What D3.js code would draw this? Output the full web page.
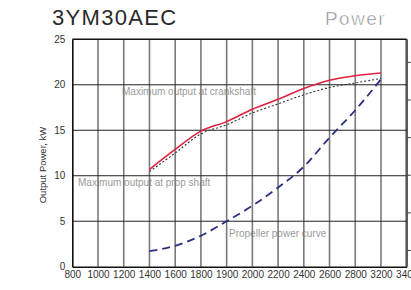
<!DOCTYPE html>
<html>
<head>
<meta charset="utf-8">
<script src="https://cdn.jsdelivr.net/npm/d3@7"></script>
<style>
  body { margin: 0; background: #fff; }
  svg { display: block; font-family: "Liberation Sans", Arial, sans-serif; }
</style>
</head>
<body>
<div id="chart"></div>
<script>
// rpm categories on x axis (equal spacing, as in the sheet)
var rpmLabels = ["800", "1000", "1200", "1400", "1600", "1800", "1900", "2000", "2200", "2400", "2600", "2800", "3200", "3400"]
var curveRpm = ["1400", "1600", "1800", "1900", "2000", "2200", "2400", "2600", "2800", "3200"]
var crankshaft = [10.7, 12.9, 14.9, 15.95, 17.3, 18.4, 19.6, 20.5, 21.0, 21.3]
var propShaft = [10.45, 12.5, 14.6, 15.6, 16.9, 17.9, 18.9, 19.7, 20.2, 20.7]
var propeller = [1.7, 2.3, 3.4, 5.0, 6.7, 8.7, 11.0, 14.2, 17.2, 20.6]
var yTicks = [0, 5, 10, 15, 20, 25]
var rightTicks = [10, 20, 30, 40, 50, 60]

var width = 411, height = 290
var margin = {top: 39.3, right: 4.3, bottom: 23.3, left: 72.3}

var svg = d3.select("#chart")
  .append("svg")
  .attr("width", width)
  .attr("height", height)

// titles
svg.append("text")
  .attr("x", 52).attr("y", 25)
  .style("font-size", "22px")
  .style("letter-spacing", "1.3px")
  .attr("fill", "#2a2a2a")
  .text("3YM30AEC")
svg.append("text")
  .attr("x", 325).attr("y", 25)
  .style("font-size", "19px")
  .style("letter-spacing", "1.4px")
  .attr("fill", "#8c8c8c")
  .attr("stroke", "#fff")
  .attr("stroke-width", 0.5)
  .attr("paint-order", "fill")
  .text("Power")

var x = d3.scalePoint()
  .domain(rpmLabels)
  .range([margin.left, width - margin.right])

var y = d3.scaleLinear()
  .domain([0, 25])
  .range([height - margin.bottom, margin.top])

// secondary axis on right (labels fall outside the window)
var y2 = d3.scaleLinear()
  .domain([0, 66])
  .range([287.6, margin.top])

// annotations (drawn under grid)
var notes = svg.append("g")
  .style("font-size", "10px")
  .attr("fill", "#9a9a9a")
notes.append("text").attr("x", 122).attr("y", y(18.9)).text("Maximum output at crankshaft")
notes.append("text").attr("x", 78).attr("y", y(8.9)).text("Maximum output at prop shaft")
notes.append("text").attr("x", 229).attr("y", y(3.3)).text("Propeller power curve")

// vertical grid
svg.append("g")
  .selectAll("line")
  .data(rpmLabels.slice(1))
  .join("line")
  .attr("x1", function(d) { return x(d) })
  .attr("x2", function(d) { return x(d) })
  .attr("y1", y(25))
  .attr("y2", y(0))
  .attr("stroke", function(d, i) { return i == rpmLabels.length - 2 ? "#555" : "#7a7a7a" })
  .attr("stroke-width", function(d, i) { return i == rpmLabels.length - 2 ? 2.5 : 1.6 })

// horizontal grid
svg.append("g")
  .selectAll("line")
  .data(yTicks.slice(1, 5))
  .join("line")
  .attr("x1", x("800"))
  .attr("x2", x("3400"))
  .attr("y1", function(d) { return y(d) })
  .attr("y2", function(d) { return y(d) })
  .attr("stroke", "#222")
  .attr("stroke-width", 1)

// top border
svg.append("line")
  .attr("x1", x("800")).attr("x2", x("3400"))
  .attr("y1", y(25)).attr("y2", y(25))
  .attr("stroke", "#111").attr("stroke-width", 1.5)

// right ticks
svg.append("g")
  .attr("transform", "translate(" + (x("3400") + 1) + ",0)")
  .call(d3.axisRight(y2).tickValues(rightTicks).tickSize(3).tickFormat(""))
  .call(function(g) { g.select(".domain").remove() })
  .selectAll("line").attr("stroke", "#333")

// left axis
var yAxis = svg.append("g")
  .attr("transform", "translate(" + x("800") + ",0)")
  .call(d3.axisLeft(y).tickValues(yTicks).tickSize(0).tickPadding(7))
yAxis.select(".domain").attr("stroke", "#111").attr("stroke-width", 1.6)
yAxis.selectAll("text")
  .style("font-size", "10px")
  .style("font-family", "Liberation Sans, Arial, sans-serif")
  .attr("fill", "#333")

// bottom axis
var xAxis = svg.append("g")
  .attr("transform", "translate(0," + y(0) + ")")
  .call(d3.axisBottom(x).tickSize(0).tickPadding(4))
xAxis.select(".domain").attr("stroke", "#111").attr("stroke-width", 1.6)
xAxis.selectAll("text")
  .style("font-size", "10px")
  .style("font-family", "Liberation Sans, Arial, sans-serif")
  .attr("fill", "#333")

// y label
svg.append("text")
  .attr("transform", "translate(46," + 165 + ") rotate(-90)")
  .attr("text-anchor", "middle")
  .style("font-size", "9.5px")
  .attr("fill", "#333")
  .text("Output Power, kW")

// curves
var line = d3.line()
  .x(function(d) { return x(d[0]) })
  .y(function(d) { return y(d[1]) })
  .curve(d3.curveMonotoneX)

function pairs(vals) { return curveRpm.map(function(r, i) { return [r, vals[i]] }) }

svg.append("path")
  .datum(pairs(propShaft))
  .attr("d", line)
  .attr("fill", "none")
  .attr("stroke", "#333")
  .attr("stroke-width", 1.1)
  .attr("stroke-dasharray", "2,2")

svg.append("path")
  .datum(pairs(crankshaft))
  .attr("d", line)
  .attr("fill", "none")
  .attr("stroke", "#e2213f")
  .attr("stroke-width", 1.6)

svg.append("path")
  .datum(pairs(propeller))
  .attr("d", line)
  .attr("fill", "none")
  .attr("stroke", "#2b2f80")
  .attr("stroke-width", 1.8)
  .attr("stroke-dasharray", "8,5")
</script>
</body>
</html>
